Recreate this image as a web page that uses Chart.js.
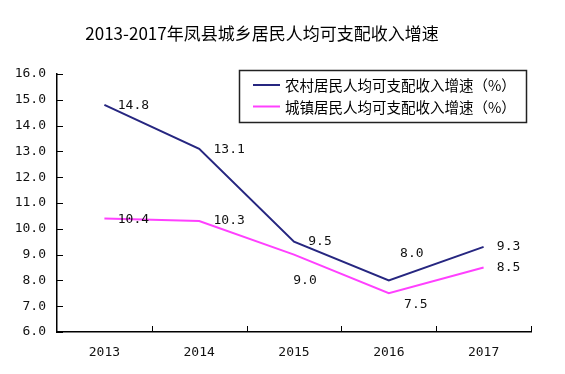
<!DOCTYPE html>
<html>
<head>
<meta charset="utf-8">
<script src="https://cdn.jsdelivr.net/npm/chart.js@4"></script>
<style>
html,body{margin:0;padding:0;background:#fff;}
#wrap{width:565px;height:374px;position:relative;}
</style>
</head>
<body>
<div id="wrap"><canvas id="c" width="565" height="374"></canvas></div>
<script>
const titleText = "2013-2017年凤县城乡居民人均可支配收入增速";
const years = ["2013", "2014", "2015", "2016", "2017"];
const ruralLabel = "农村居民人均可支配收入增速（%）";
const urbanLabel = "城镇居民人均可支配收入增速（%）";
const ruralGrowth = [14.8, 13.1, 9.5, 8.0, 9.3];
const urbanGrowth = [10.4, 10.3, 9.0, 7.5, 8.5];
const yMin = 6, yMax = 16, yStep = 1;

const monoFont = "13px 'DejaVu Sans Mono', 'Liberation Mono', monospace";
const cjkFont = "'Noto Sans CJK SC', 'Noto Sans', sans-serif";

// label offsets (dx, dy) from each point, per dataset
const labelOffsets = [
  [[29,1],[30,1],[26,0],[23,-27],[25,0]],
  [[29,1.5],[30,0],[11,26],[27,11],[25,0]]
];

const decor = {
  id: 'decor',
  afterDraw(chart) {
    const ctx = chart.ctx;
    const xs = chart.scales.x, ys = chart.scales.y;
    const a = chart.chartArea;
    ctx.save();
    // inward ticks
    ctx.strokeStyle = '#000';
    ctx.lineWidth = 1;
    ctx.beginPath();
    ys.ticks.forEach((t, i) => {
      const y = Math.round(ys.getPixelForTick(i)) + 0.5;
      ctx.moveTo(a.left, y); ctx.lineTo(a.left + 6, y);
    });
    const n = years.length;
    for (let i = 1; i <= n; i++) {
      const x = Math.round(a.left + i * (a.right - a.left) / n) + 0.5;
      ctx.moveTo(x, a.bottom); ctx.lineTo(x, a.bottom - 6);
    }
    ctx.stroke();

    // y tick labels
    ctx.font = monoFont;
    ctx.fillStyle = '#111';
    ctx.textAlign = 'right';
    ctx.textBaseline = 'middle';
    ys.ticks.forEach((t, i) => {
      ctx.fillText(Number(t.value).toFixed(1), a.left - 11, ys.getPixelForTick(i));
    });

    // data labels
    ctx.textAlign = 'center';
    chart.data.datasets.forEach((ds, di) => {
      const meta = chart.getDatasetMeta(di);
      meta.data.forEach((pt, i) => {
        const o = labelOffsets[di][i];
        ctx.fillText(ds.data[i].toFixed(1), pt.x + o[0], pt.y + o[1]);
      });
    });

    // title
    ctx.font = "17px " + cjkFont;
    ctx.fillStyle = '#000';
    ctx.fillText(titleText, 262, 33.5);

    // legend
    const bx = 239.5, by = 70.5, bw = 287, bh = 52;
    ctx.fillStyle = '#fff';
    ctx.fillRect(bx, by, bw, bh);
    ctx.strokeStyle = '#222';
    ctx.lineWidth = 1.5;
    ctx.strokeRect(bx, by, bw, bh);
    const rows = [85, 106.5];
    ctx.font = "14.5px " + cjkFont;
    ctx.textAlign = 'left';
    chart.data.datasets.forEach((ds, di) => {
      const y = rows[di];
      ctx.strokeStyle = ds.borderColor;
      ctx.lineWidth = 2;
      ctx.beginPath();
      ctx.moveTo(253, y); ctx.lineTo(280, y);
      ctx.stroke();
      ctx.fillStyle = '#000';
      ctx.fillText(ds.label, 285, y + 0.5);
    });
    ctx.restore();
  }
};

new Chart(document.getElementById('c'), {
  type: 'line',
  data: {
    labels: years,
    datasets: [
      { label: ruralLabel, data: ruralGrowth, borderColor: '#262680', backgroundColor: '#262680', borderWidth: 2, pointRadius: 0, tension: 0 },
      { label: urbanLabel, data: urbanGrowth, borderColor: '#FF40FF', backgroundColor: '#FF40FF', borderWidth: 2, pointRadius: 0, tension: 0 }
    ]
  },
  options: {
    responsive: false,
    animation: false,
    devicePixelRatio: 1,
    layout: { padding: { top: 74, right: 34, bottom: 0, left: 0 } },
    plugins: { legend: { display: false }, title: { display: false }, tooltip: { enabled: false } },
    scales: {
      x: {
        offset: true,
        grid: { display: false, drawTicks: false },
        border: { display: true, color: '#000', width: 1.5 },
        ticks: { font: { family: "'DejaVu Sans Mono', 'Liberation Mono', monospace", size: 13 }, color: '#111', padding: 13, maxRotation: 0 },
        afterFit(s) { s.height = 42; }
      },
      y: {
        min: yMin, max: yMax,
        grid: { display: false, drawTicks: false },
        border: { display: true, color: '#000', width: 1.5 },
        ticks: { stepSize: yStep, display: false },
        afterFit(s) { s.width = 57; }
      }
    }
  },
  plugins: [decor]
});
</script>
</body>
</html>
